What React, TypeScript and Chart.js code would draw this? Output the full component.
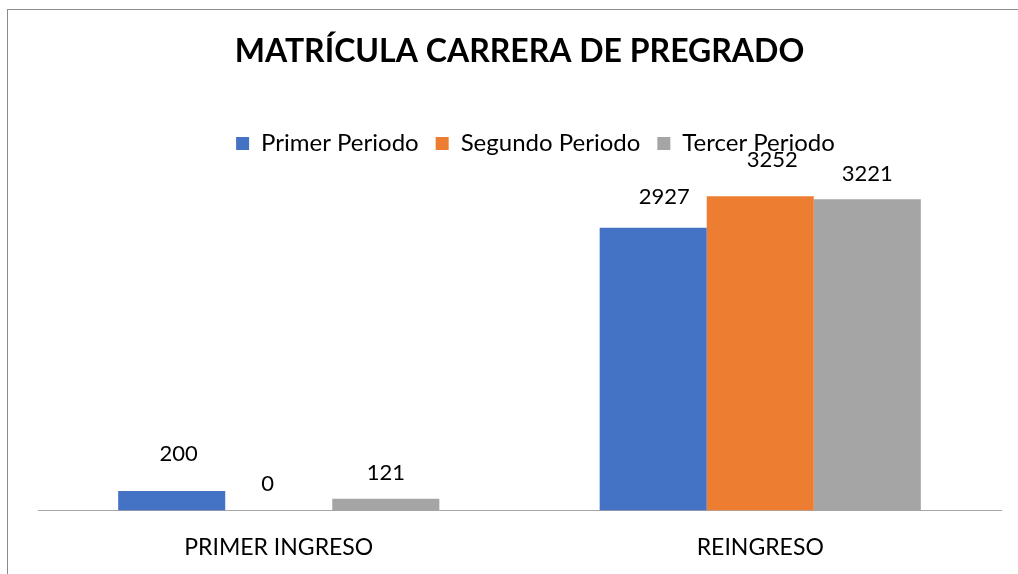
import React, { useEffect, useRef } from "react";
import { Chart, registerables } from "chart.js";

Chart.register(...registerables);

// ---- data ----
const chartTitle = "MATRÍCULA CARRERA DE PREGRADO";
const categories = ["PRIMER INGRESO", "REINGRESO"];
const seriesNames = ["Primer Periodo", "Segundo Periodo", "Tercer Periodo"];
const primerPeriodo = [200, 2927];
const segundoPeriodo = [0, 3252];
const tercerPeriodo = [121, 3221];
const yAxisMax = 3500;

// ---- styles ----
const seriesColors = ["#4472C4", "#ED7D31", "#A5A5A5"];
const FONT = "Lato, 'Open Sans', sans-serif";
// label nudges (px) as the labels were placed in the original
const labelDx = [
  [7, 11],
  [-11, 12],
  [0, 0],
];
const labelGap = [
  [30, 24],
  [19, 29],
  [19, 18],
];

const dataLabelPlugin = {
  id: "dataLabels",
  afterDatasetsDraw(chart: any) {
    const ctx = chart.ctx;
    ctx.save();
    ctx.font = `22px ${FONT}`;
    ctx.fillStyle = "#000";
    ctx.textAlign = "center";
    ctx.textBaseline = "alphabetic";
    chart.data.datasets.forEach((ds: any, di: number) => {
      const meta = chart.getDatasetMeta(di);
      meta.data.forEach((el: any, i: number) => {
        ctx.fillText(String(ds.data[i]), el.x + labelDx[di][i], el.y - labelGap[di][i]);
      });
    });
    ctx.restore();
  },
};

// nudge the legend box the way it sits in the original
const legendShiftPlugin = {
  id: "legendShift",
  beforeDraw(chart: any) {
    const lg = chart.legend;
    if (lg && !lg._shifted) {
      lg.left += 16;
      lg.right += 16;
      lg.top -= 7;
      lg.bottom -= 7;
      lg._shifted = true;
    }
  },
};

export default function App() {
  const canvasRef = useRef<HTMLCanvasElement | null>(null);

  useEffect(() => {
    const canvas = canvasRef.current;
    if (!canvas) return;
    const series = [primerPeriodo, segundoPeriodo, tercerPeriodo];
    const chart = new Chart(canvas, {
      type: "bar",
      data: {
        labels: categories,
        datasets: series.map((d, i) => ({
          label: seriesNames[i],
          data: d,
          backgroundColor: seriesColors[i],
          borderWidth: 0,
          barPercentage: 1,
          categoryPercentage: 0.667,
        })),
      },
      options: {
        responsive: false,
        animation: false,
        layout: { padding: { left: 38, right: 17, top: 0, bottom: 15 } },
        plugins: {
          title: {
            display: true,
            text: chartTitle,
            color: "#000",
            font: { family: FONT, size: 32, weight: "bold" },
            padding: { top: 32, bottom: 51 },
          },
          legend: {
            display: true,
            position: "top",
            labels: {
              color: "#000",
              font: { family: FONT, size: 24 },
              boxWidth: 13,
              boxHeight: 13,
              padding: 17,
            },
          },
          tooltip: { enabled: false },
        },
        scales: {
          x: {
            grid: { display: false, drawTicks: false },
            border: { display: true, color: "#a6a6a6", width: 1 },
            ticks: { color: "#000", font: { family: FONT, size: 23 }, padding: 23 },
          },
          y: {
            display: false,
            min: 0,
            max: yAxisMax,
          },
        },
      },
      plugins: [dataLabelPlugin, legendShiftPlugin],
    });
    return () => chart.destroy();
  }, []);

  return (
    <div
      style={{
        position: "fixed",
        left: 0,
        top: 0,
        width: 1018,
        height: 574,
        overflow: "hidden",
        background: "#fff",
      }}
    >
      <canvas ref={canvasRef} width={1018} height={599} style={{ position: "absolute", left: 0, top: 0 }} />
      <div
        style={{
          position: "absolute",
          left: 7,
          top: 9,
          width: 2000,
          height: 1000,
          borderTop: "1px solid #8c8c8c",
          borderLeft: "1px solid #8c8c8c",
          pointerEvents: "none",
        }}
      />
    </div>
  );
}
